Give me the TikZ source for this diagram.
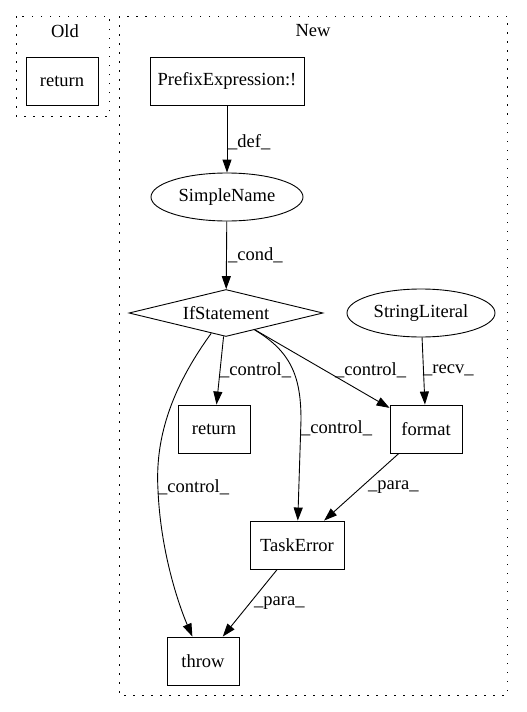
\documentclass[tikz,border=0pt]{standalone}
\usepackage{fontspec}
\setmainfont{Liberation Serif}
\usepackage{tikz}
\usetikzlibrary{
    shapes.geometric,
    arrows.meta,
    positioning
}

\begin{document}
\begin{tikzpicture}[
            x=1pt, y=-1pt,
            font=\fontsize{18.5pt}{21pt}\selectfont,
            ast_box/.style={rectangle, draw, line width=0.9pt, minimum height=48pt, inner sep=0pt},
            ast_ellipse/.style={ellipse, draw, line width=0.9pt, minimum height=48pt, inner sep=0pt},
            ast_diamond/.style={diamond, draw, line width=0.9pt, aspect=4, minimum width=194pt, minimum height=47pt, inner sep=0pt},
            cluster_box/.style={draw, line width=0.9pt, dash pattern=on 1.5pt off 7.5pt},
            flow_arrow/.style={-{Triangle[length=13pt, width=9pt]}, line width=0.9pt, black},
            edge_label/.style={anchor=west, inner sep=0pt}
        ]
        \useasboundingbox (0,0) rectangle (527,712);

        % clusters
        \draw[cluster_box] (16,16) rectangle (109,116);
        \draw[cluster_box] (119,16) rectangle (507,695);
        \node (old_title) at (65,31) {Old};
        \node (new_title) at (313,31) {New};

        % old
        \node[ast_box, minimum width=72pt] (old_return) at (62,81) {return};

        % new
        \node[ast_box, minimum width=154pt] (prefix_expr) at (227,81) {PrefixExpression:!};
        \node[ast_ellipse, minimum width=152pt] (simple_name) at (227,197) {SimpleName};
        \node[ast_diamond] (if_stmt) at (226,313) {IfStatement};
        \node[ast_ellipse, minimum width=148pt] (string_lit) at (421,313) {StringLiteral};
        \node[ast_box, minimum width=72pt] (new_return) at (214,429) {return};
        \node[ast_box, minimum width=72pt] (format_call) at (426,429) {format};
        \node[ast_box, minimum width=94pt] (task_error) at (297,545) {TaskError};
        \node[ast_box, minimum width=72pt] (throw_stmt) at (203,661) {throw};

        \draw[flow_arrow] (prefix_expr) -- (simple_name);
        \draw[flow_arrow] (simple_name) -- (if_stmt);
        \draw[flow_arrow] (if_stmt) -- (new_return);
        \draw[flow_arrow] (if_stmt) -- (format_call);
        \draw[flow_arrow] (if_stmt) .. controls (292,352) and (301,378) .. (301,420) -- (task_error);
        \draw[flow_arrow] (if_stmt) .. controls (170,390) and (155,440) .. (158,490) .. controls (161,560) and (183,615) .. (throw_stmt);
        \draw[flow_arrow] (string_lit) -- (format_call);
        \draw[flow_arrow] (format_call) -- (task_error);
        \draw[flow_arrow] (task_error) -- (throw_stmt);

        \node[edge_label] (def_lbl) at (228,142) {\_def\_};
        \node[edge_label] (cond_lbl) at (228,255) {\_cond\_};
        \node[edge_label] (ctrl_ret_lbl) at (220,370) {\_control\_};
        \node[edge_label] (ctrl_fmt_lbl) at (335,370) {\_control\_};
        \node[edge_label] (recv_lbl) at (423,370) {\_recv\_};
        \node[edge_label] (ctrl_err_lbl) at (301,428) {\_control\_};
        \node[edge_label] (ctrl_thr_lbl) at (158,487) {\_control\_};
        \node[edge_label] (para_err_lbl) at (368,487) {\_para\_};
        \node[edge_label] (para_thr_lbl) at (254,603) {\_para\_};

        \end{tikzpicture}
\end{document}
